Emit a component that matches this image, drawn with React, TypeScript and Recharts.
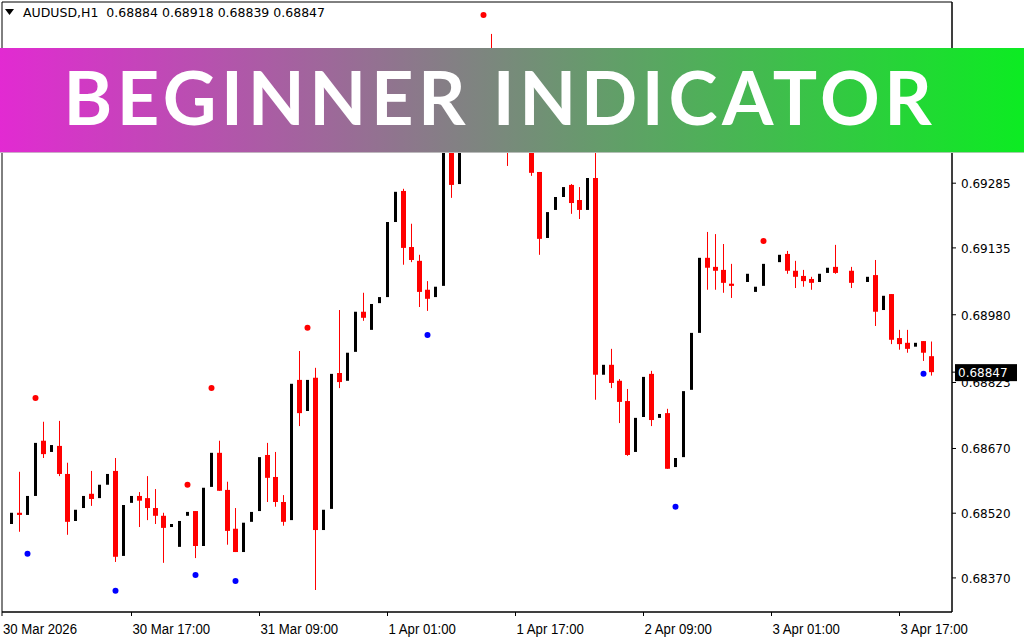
import React from "react";
import { ComposedChart, Bar, Scatter, XAxis, YAxis, ReferenceArea } from "recharts";

const symbol = "AUDUSD,H1";
const lastBar = [0.68884, 0.68918, 0.68839, 0.68847];

// H1 bars, 30 Mar 02:00 .. 3 Apr 21:00 (null = bar not painted)
const open: (number | null)[] = [
  0.68495, 0.68521, 0.68516, 0.6856, 0.68688, 0.68662, 0.68676, 0.68611, 0.68502, 0.68532,
  0.68565, 0.68555, 0.68586, 0.68618, 0.68421, 0.68544, 0.6856, 0.68555, 0.68532, 0.68514,
  0.68488, 0.68442, 0.68514, 0.68525, 0.68444, 0.68581, 0.6866, 0.68574, 0.68484, 0.6843,
  0.685, 0.68525, 0.68655, 0.68604, 0.68546, 0.68504, 0.68829, 0.68757, 0.68834, 0.68481,
  0.6853, 0.68845, 0.68827, 0.68894, 0.68987, 0.68945, 0.69007, 0.69021, 0.69195, 0.69267,
  0.69137, 0.69105, 0.69038, 0.69021, 0.69047, 0.69362, 0.69283, 0.69443, 0.69524, 0.69575,
  0.69571, 0.69455, 0.69501, 0.69385, 0.69432, 0.69397, 0.69311, 0.69158, 0.69223, 0.69253,
  0.69281, 0.69246, 0.69223, 0.69297, 0.68841, 0.68864, 0.68827, 0.6878, 0.68662, 0.68743,
  0.68843, 0.68741, 0.68752, 0.68627, 0.6865, 0.68806, 0.68938, 0.69112, 0.69091, 0.69084,
  0.69052, null, 0.69056, 0.69033, 0.69047, null, 0.69102, 0.69121, 0.69082, 0.6907,
  0.69063, 0.69056, 0.69077, 0.69091, null, 0.69082, null, 0.69056, 0.69072, 0.68991,
  0.69028, 0.68926, 0.68915, 0.68906, 0.68919, 0.68884,
];
const high: (number | null)[] = [
  0.68521, 0.68616, 0.6856, 0.68683, 0.68732, 0.68678, 0.68734, 0.68637, 0.68528, 0.6856,
  0.68618, 0.68586, 0.68611, 0.68648, 0.68539, 0.6856, 0.68569, 0.68606, 0.68576, 0.68521,
  0.68495, 0.68502, 0.68523, 0.68525, 0.68579, 0.6866, 0.68688, 0.68593, 0.68532, 0.68498,
  0.68523, 0.6865, 0.68683, 0.68662, 0.68562, 0.6882, 0.68896, 0.68829, 0.68857, 0.68528,
  0.68843, 0.68991, 0.68892, 0.68987, 0.69031, 0.69005, 0.69021, 0.69195, 0.69265, 0.69272,
  0.69191, 0.69119, 0.69058, 0.69045, 0.69385, 0.69385, 0.69443, 0.69524, 0.69575, 0.69589,
  0.69631, 0.69501, 0.69513, 0.69432, 0.69443, 0.69408, 0.69311, 0.69218, 0.69253, 0.69276,
  0.69283, 0.69276, 0.69297, 0.69362, 0.68864, 0.68901, 0.68831, 0.68808, 0.68741, 0.68836,
  0.6885, 0.6875, 0.68762, 0.68648, 0.68803, 0.68938, 0.69112, 0.69172, 0.69167, 0.69144,
  0.69098, null, 0.69075, 0.69045, 0.69098, null, 0.69119, 0.69128, 0.69105, 0.69084,
  0.69068, 0.69075, 0.69089, 0.69142, null, 0.69091, null, 0.69068, 0.69107, 0.69024,
  0.69028, 0.68945, 0.68945, 0.68915, 0.68919, 0.68918,
];
const low: (number | null)[] = [
  0.68495, 0.68477, 0.68516, 0.6856, 0.68648, 0.68662, 0.68606, 0.6847, 0.68502, 0.68532,
  0.68537, 0.68555, 0.68586, 0.68407, 0.68421, 0.68544, 0.68488, 0.68504, 0.68495, 0.68405,
  0.68488, 0.68442, 0.68514, 0.68416, 0.68444, 0.68581, 0.68572, 0.68447, 0.6843, 0.6843,
  0.685, 0.68525, 0.68546, 0.68535, 0.68491, 0.68504, 0.68722, 0.68757, 0.68342, 0.68481,
  0.6853, 0.6881, 0.68827, 0.68894, 0.68966, 0.68945, 0.69007, 0.69021, 0.69195, 0.69096,
  0.69102, 0.68998, 0.68989, 0.69021, 0.69047, 0.69251, 0.69283, 0.69443, 0.69524, 0.69501,
  0.69432, 0.69455, 0.69325, 0.69385, 0.69374, 0.69302, 0.69119, 0.69158, 0.69223, 0.69253,
  0.69214, 0.69202, 0.69223, 0.68783, 0.68841, 0.6881, 0.68729, 0.68653, 0.68662, 0.68743,
  0.68722, 0.68741, 0.68623, 0.68627, 0.6865, 0.68806, 0.68938, 0.69038, 0.69038, 0.69031,
  0.69019, null, 0.69056, 0.69033, 0.69047, null, 0.69102, 0.69075, 0.69042, 0.69045,
  0.69038, 0.69056, 0.69077, 0.69075, null, 0.69042, null, 0.69056, 0.68954, 0.68991,
  0.68912, 0.68899, 0.68892, 0.68906, 0.68873, 0.68839,
];
const close: (number | null)[] = [
  0.68521, 0.68516, 0.6856, 0.68683, 0.68657, 0.68678, 0.68611, 0.685, 0.68528, 0.6856,
  0.68553, 0.68586, 0.68611, 0.68419, 0.68539, 0.6856, 0.68549, 0.68532, 0.68514, 0.68486,
  0.68495, 0.68502, 0.68523, 0.68444, 0.68579, 0.6866, 0.68572, 0.68479, 0.6843, 0.68498,
  0.68523, 0.6865, 0.68602, 0.68546, 0.685, 0.6882, 0.68752, 0.68829, 0.68481, 0.68528,
  0.68843, 0.68824, 0.68892, 0.68987, 0.68973, 0.69005, 0.69021, 0.69195, 0.69265, 0.69135,
  0.69107, 0.69033, 0.69017, 0.69045, 0.69385, 0.69281, 0.69443, 0.69524, 0.69575, 0.69536,
  0.69455, 0.69501, 0.69385, 0.69432, 0.69397, 0.69309, 0.69156, 0.69218, 0.69253, 0.69276,
  0.69239, 0.69223, 0.69297, 0.68841, 0.68864, 0.68822, 0.68778, 0.68655, 0.68741, 0.68836,
  0.68736, 0.6875, 0.68623, 0.68648, 0.68803, 0.68938, 0.69112, 0.69089, 0.69082, 0.69054,
  0.69047, null, 0.69075, 0.69045, 0.69098, null, 0.69119, 0.69082, 0.69068, 0.69058,
  0.69054, 0.69075, 0.69089, 0.69077, null, 0.69054, null, 0.69068, 0.68987, 0.69024,
  0.68922, 0.68912, 0.68901, 0.68915, 0.68892, 0.68847,
];

// indicator arrows
const sellIdx = [3, 22, 25, 37, 59, 94];
const sellPrice = [0.68787, 0.68586, 0.6881, 0.6895, 0.69675, 0.69151];
const buyIdx = [2, 13, 23, 28, 52, 83, 114];
const buyPrice = [0.68426, 0.6834, 0.68377, 0.68363, 0.68933, 0.68535, 0.68843];

const yTicks = [0.69285, 0.69135, 0.6898, 0.68823, 0.6867, 0.6852, 0.6837];
const xMin = -1.1875;
const xMax = 117.5625;
const yMin = 0.68291;
const yMax = 0.69705;
const xTickIdx = [xMin, 15, 31, 47, 63, 79, 95, 111];
const xTickLabels = [
  "30 Mar 2026", "30 Mar 17:00", "31 Mar 09:00", "1 Apr 01:00",
  "1 Apr 17:00", "2 Apr 09:00", "3 Apr 01:00", "3 Apr 17:00",
];

const data = open.map((o, i) => ({
  i,
  open: o,
  high: high[i],
  low: low[i],
  close: close[i],
}));
const sellData = sellIdx.map((i, k) => ({ i, p: sellPrice[k] }));
const buyData = buyIdx.map((i, k) => ({ i, p: buyPrice[k] }));

const lastClose = lastBar[3];
const axisFont = "'DejaVu Sans', Verdana, sans-serif";

function Candle(props: any) {
  const { x, y, width, height, payload } = props;
  if (payload == null || payload.high == null) return null;
  const cx = Math.round(x + width / 2 - 0.5) + 0.5;
  const top = Math.min(y, y + height);
  const h = Math.abs(height);
  const range = payload.high - payload.low;
  const py = (p: number) => (range > 0 ? top + ((payload.high - p) / range) * h : top);
  const yo = py(payload.open);
  const yc = py(payload.close);
  const bTop = Math.min(yo, yc);
  const bH = Math.max(1, Math.abs(yo - yc));
  if (payload.close >= payload.open) {
    return <rect x={cx - 1.5} y={bTop} width={3} height={bH} fill="#000" />;
  }
  return (
    <g>
      <rect x={cx - 0.5} y={top} width={1} height={Math.max(1, h)} fill="#FF0000" />
      <rect x={cx - 2.5} y={bTop} width={5} height={bH} fill="#FF0000" />
    </g>
  );
}

function Dot(color: string) {
  return (props: any) => <circle cx={props.cx} cy={props.cy} r={3} fill={color} />;
}

function YTick(props: any) {
  const { x, y, payload } = props;
  if (payload.value === lastClose) {
    return (
      <g>
        <rect x={x - 6} y={y - 8} width={62} height={17} fill="#000" />
        <text x={x - 3} y={y + 5} fill="#fff" fontSize={12} fontFamily={axisFont}>
          {payload.value.toFixed(5)}
        </text>
      </g>
    );
  }
  return (
    <text x={x} y={y + 5} fill="#000" fontSize={12} fontFamily={axisFont}>
      {payload.value.toFixed(5)}
    </text>
  );
}

function XTick(props: any) {
  const { x, y, payload } = props;
  const k = xTickIdx.indexOf(payload.value);
  return (
    <text
      transform={`translate(${x + 1},${y + 16}) scale(0.88,1)`}
      fill="#000"
      fontSize={15}
      fontFamily="'Liberation Sans', Arial, sans-serif"
    >
      {xTickLabels[k]}
    </text>
  );
}

export default function App() {
  return (
    <div style={{ position: "relative", width: 1024, height: 640, overflow: "hidden", background: "#fff" }}>
      <style>{"body{margin:0}"}</style>
      <ComposedChart
        width={1024}
        height={640}
        data={data}
        margin={{ top: 2, right: 0, left: 2, bottom: 0 }}
      >
        <XAxis
          dataKey="i"
          type="number"
          domain={[xMin, xMax]}
          allowDataOverflow
          ticks={xTickIdx}
          interval={0}
          height={28}
          tickSize={4}
          axisLine={{ stroke: "#000" }}
          tickLine={{ stroke: "#000" }}
          tick={<XTick />}
        />
        <YAxis
          orientation="right"
          type="number"
          domain={[yMin, yMax]}
          allowDataOverflow
          ticks={[...yTicks, lastClose]}
          interval={0}
          width={72}
          tickSize={4}
          tickMargin={5}
          axisLine={{ stroke: "#000" }}
          tickLine={{ stroke: "#000" }}
          tick={<YTick />}
        />
        <ReferenceArea x1={xMin} x2={xMax} y1={yMin} y2={yMax} fill="none" stroke="#000" strokeWidth={1} ifOverflow="visible" />
        <Bar
          dataKey={(d: any) => (d.high == null ? null : [d.low, d.high])}
          barSize={5}
          shape={<Candle />}
          isAnimationActive={false}
        />
        <Scatter data={sellData} dataKey="p" shape={Dot("#FF0000")} isAnimationActive={false} />
        <Scatter data={buyData} dataKey="p" shape={Dot("#0000FF")} isAnimationActive={false} />
      </ComposedChart>

      <div
        style={{
          position: "absolute",
          left: 5,
          top: 5,
          fontFamily: axisFont,
          fontSize: 12.5,
          color: "#000",
          whiteSpace: "pre",
          display: "flex",
          alignItems: "center",
          lineHeight: "16px",
        }}
      >
        <svg width={18} height={16}>
          <polygon points="0,4 9,4 4.5,10" fill="#000" />
        </svg>
        <span>{symbol + "  " + lastBar.map((v) => v.toFixed(5)).join(" ")}</span>
      </div>

      <div
        style={{
          position: "absolute",
          left: 0,
          top: 48,
          width: 1024,
          height: 105,
          background: "linear-gradient(90deg, #E22AD2 0%, #0CEC22 100%)",
          borderBottom: "1px solid rgba(200,200,200,0.8)",
          boxSizing: "border-box",
          display: "flex",
          alignItems: "center",
          justifyContent: "center",
        }}
      >
        <span
          style={{
            fontFamily: "Lato, 'Open Sans', sans-serif",
            fontWeight: 700,
            fontSize: 74,
            letterSpacing: 4.6,
            color: "#fff",
            lineHeight: 1,
            marginTop: -6,
            marginRight: 24,
          }}
        >
          BEGINNER INDICATOR
        </span>
      </div>
    </div>
  );
}
